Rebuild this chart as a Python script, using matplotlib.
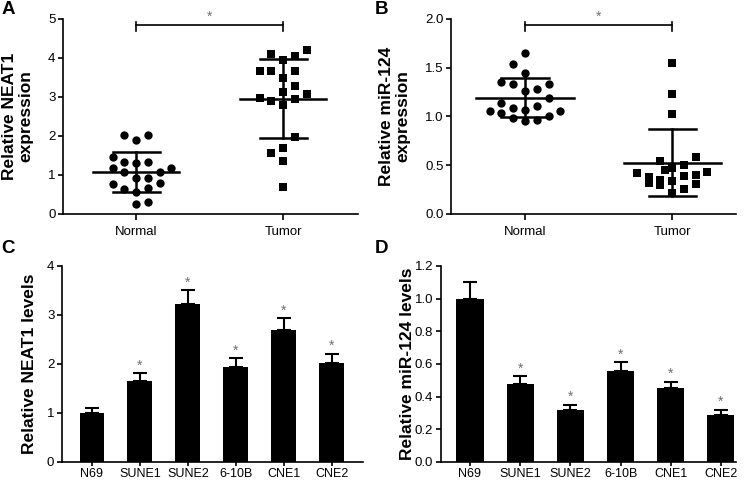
"""
Four panel figure: NEAT1 / miR-124 scatter dot plots (A, B) and cell line bar charts (C, D)
"""

import matplotlib
matplotlib.use("Agg")
import matplotlib.pyplot as plt
import numpy as np

plt.rcParams['font.family'] = ['Liberation Sans', 'DejaVu Sans']

# ---- panel A: NEAT1 expression, tissue samples
groups = ["Normal", "Tumor"]
neat1_normal = [2.03, 2.03, 1.90, 1.47, 1.34, 1.30, 1.34, 1.17, 1.19, 1.07,
                1.07, 0.92, 0.92, 0.76, 0.80, 0.63, 0.66, 0.56, 0.30, 0.25]
neat1_tumor = [4.10, 3.95, 4.06, 4.21, 3.67, 3.66, 3.66, 3.48, 3.28, 3.12,
               2.97, 2.90, 2.94, 3.07, 2.78, 1.96, 1.68, 1.56, 1.36, 0.69]

# ---- panel B: miR-124 expression, tissue samples
mir_normal = [1.65, 1.54, 1.44, 1.35, 1.33, 1.26, 1.28, 1.33, 1.19, 1.14,
              1.09, 1.07, 1.11, 1.06, 1.06, 1.03, 0.98, 0.95, 0.96, 1.00]
mir_tumor = [1.55, 1.23, 1.02, 0.54, 0.58, 0.50, 0.47, 0.45, 0.42, 0.43,
             0.38, 0.32, 0.35, 0.30, 0.34, 0.39, 0.40, 0.26, 0.31, 0.22]

# horizontal slot of every dot in the dot plots (layout only)
slot_a_normal = [-1, 1, 0, -2, -1, 0, 1, -2, 3, -1, 2, 0, 1, -2, 2, -1, 1, 0, 1, 0]
slot_a_tumor = [-1, 0, 1, 2, -2, -1, 1, 0, 1, 0, -2, -1, 1, 2, 0, 1, 0, -1, 0, 0]
slot_b_normal = [0, -1, 0, -2, -1, 0, 1, 2, 2, -2, -1, 0, 1, -3, 3, -2, -1, 0, 1, 2]
slot_b_tumor = [0, 0, 0, -1, 2, 1, 0, -0.6, -3, 3, -2, -2, -1, -1, 0, 1, 2, 1, 2, 0]

# ---- panels C, D: cell lines
cell_lines = ["N69", "SUNE1", "SUNE2", "6-10B", "CNE1", "CNE2"]
neat1_levels = [1.00, 1.65, 3.22, 1.93, 2.69, 2.01]
neat1_err = [0.10, 0.16, 0.29, 0.19, 0.24, 0.20]
mir_levels = [1.00, 0.48, 0.32, 0.56, 0.45, 0.29]
mir_err = [0.10, 0.045, 0.03, 0.05, 0.04, 0.03]
cell_sig = [False, True, True, True, True, True]

STAR_GRAY = "#6e6e6e"


def style_axes(ax, xlen, xpad):
    for side in ("top", "right"):
        ax.spines[side].set_visible(False)
    for side in ("left", "bottom"):
        ax.spines[side].set_linewidth(1.2)
    ax.tick_params(direction="out", length=3.5, width=1.2, labelsize=9.5, pad=2)
    ax.tick_params(axis="x", length=xlen, pad=xpad)


def dot_plot(ax, data, slots, markers, sizes, mean_half, cap_half):
    for i, (vals, slot, mk, sz) in enumerate(zip(data, slots, markers, sizes)):
        vals = np.array(vals)
        xs = i + 0.08 * np.array(slot)
        ax.scatter(xs, vals, marker=mk, s=sz, color="black", linewidths=0, zorder=3)
        m = vals.mean()
        sd = vals.std(ddof=1)
        ax.plot([i - mean_half, i + mean_half], [m, m], color="black", lw=1.8, zorder=2)
        ax.plot([i, i], [m - sd, m + sd], color="black", lw=1.8, zorder=2)
        for y in (m - sd, m + sd):
            ax.plot([i - cap_half, i + cap_half], [y, y], color="black", lw=1.8, zorder=2)
    ax.set_xticks(range(len(groups)))
    ax.set_xticklabels(groups)


def bracket(ax, y, drop):
    ax.plot([0, 1], [y, y], color="black", lw=1.2, clip_on=False)
    for x in (0, 1):
        ax.plot([x, x], [y - drop, y + drop * 0.4], color="black", lw=1.2, clip_on=False)
    ax.annotate("*", (0.5, y), xytext=(0, 1), textcoords="offset points",
                ha="center", va="bottom", fontsize=10, color=STAR_GRAY)


def bar_plot(ax, values, errs, width):
    x = np.arange(len(cell_lines))
    ax.bar(x, values, width=width, color="black", zorder=2)
    ax.errorbar(x, values, yerr=[np.zeros(len(errs)), errs], fmt="none", ecolor="black",
                elinewidth=1.5, capsize=5.2, capthick=1.5, zorder=1)
    for xi, v, e, s in zip(x, values, errs, cell_sig):
        if s:
            ax.annotate("*", (xi, v + e), xytext=(0, 0.5), textcoords="offset points",
                        ha="center", va="bottom", fontsize=10, color=STAR_GRAY)
    ax.set_xticks(x)
    ax.set_xticklabels(cell_lines)


def main():
    fig = plt.figure(figsize=(7.46, 4.83), dpi=100)
    ax_a = fig.add_axes([0.0845, 0.557, 0.3955, 0.404])
    ax_b = fig.add_axes([0.6046, 0.557, 0.382, 0.404])
    ax_c = fig.add_axes([0.0831, 0.0435, 0.4035, 0.4058])
    ax_d = fig.add_axes([0.591, 0.0435, 0.3956, 0.4058])

    # A
    dot_plot(ax_a, [neat1_normal, neat1_tumor], [slot_a_normal, slot_a_tumor],
             ["o", "s"], [36, 32], 0.29, 0.16)
    ax_a.set_xlim(-0.497, 1.51)
    ax_a.set_ylim(0, 5)
    ax_a.set_yticks(range(6))
    ax_a.set_ylabel("Relative NEAT1\nexpression", fontsize=12.5, fontweight="bold", linespacing=1.1)
    ax_a.yaxis.set_label_coords(-0.10, 0.5)
    bracket(ax_a, 4.85, 0.17)

    # B
    dot_plot(ax_b, [mir_normal, mir_tumor], [slot_b_normal, slot_b_tumor],
             ["o", "s"], [36, 30], 0.33, 0.16)
    ax_b.set_xlim(-0.503, 1.435)
    ax_b.set_ylim(0, 2.0)
    ticks_b = np.arange(0, 2.01, 0.5)
    ax_b.set_yticks(ticks_b)
    ax_b.set_yticklabels(["%.1f" % t for t in ticks_b])
    ax_b.set_ylabel("Relative miR-124\nexpression", fontsize=12.5, fontweight="bold", linespacing=1.1)
    ax_b.yaxis.set_label_coords(-0.144, 0.5)
    bracket(ax_b, 1.94, 0.068)

    # C
    bar_plot(ax_c, neat1_levels, neat1_err, 0.52)
    ax_c.set_xlim(-0.625, 5.65)
    ax_c.set_ylim(0, 4)
    ax_c.set_yticks(range(5))
    ax_c.set_ylabel("Relative NEAT1 levels", fontsize=12.5, fontweight="bold")
    ax_c.yaxis.set_label_coords(-0.083, 0.5)

    # D
    bar_plot(ax_d, mir_levels, mir_err, 0.54)
    ax_d.set_xlim(-0.58, 5.3)
    ax_d.set_ylim(0, 1.2)
    ticks_d = np.arange(0, 1.21, 0.2)
    ax_d.set_yticks(ticks_d)
    ax_d.set_yticklabels(["%.1f" % t for t in ticks_d])
    ax_d.set_ylabel("Relative miR-124 levels", fontsize=12.5, fontweight="bold")
    ax_d.yaxis.set_label_coords(-0.088, 0.5)

    for ax in (ax_a, ax_b):
        style_axes(ax, 4.5, 4)
    for ax in (ax_c, ax_d):
        style_axes(ax, 3, 1.2)
        ax.tick_params(axis="x", labelsize=9)

    for letter, x, y in (("A", 0.002, 0.998), ("B", 0.502, 0.998),
                         ("C", 0.002, 0.503), ("D", 0.502, 0.503)):
        fig.text(x, y, letter, fontsize=13.5, fontweight="bold", ha="left", va="top")

    fig.savefig("out.png", dpi=100)


if __name__ == "__main__":
    main()
